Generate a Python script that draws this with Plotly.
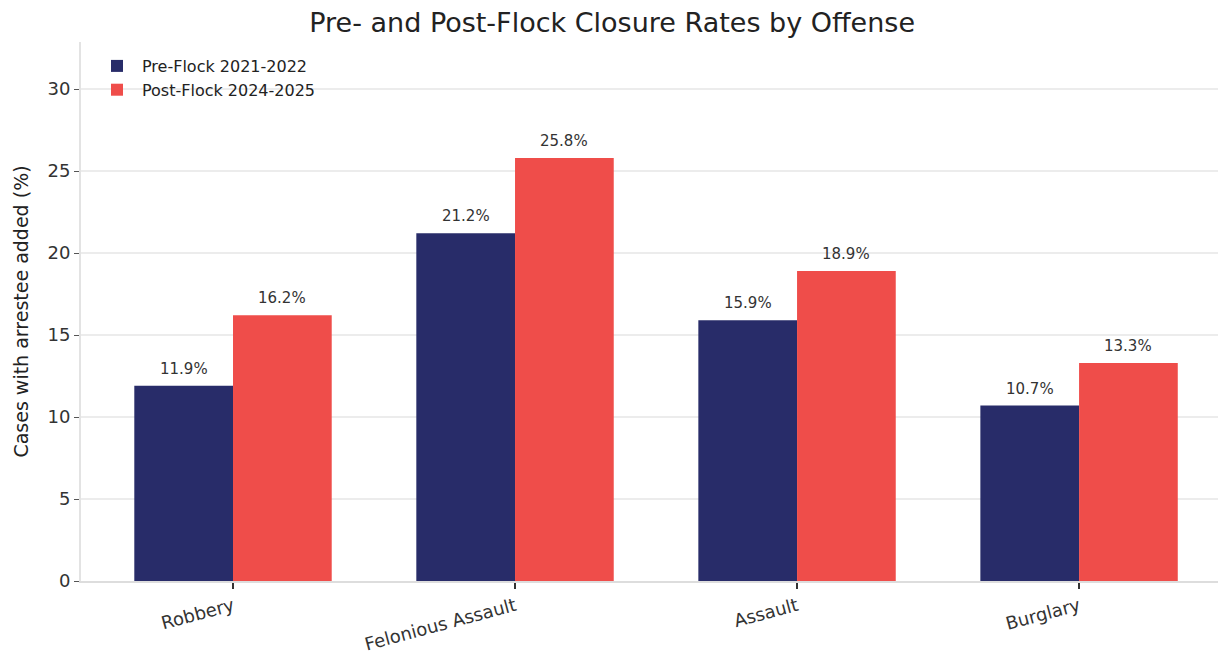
import plotly.graph_objects as go

categories = ["Robbery", "Felonious Assault", "Assault", "Burglary"]
pre_flock = [11.9, 21.2, 15.9, 10.7]
post_flock = [16.2, 25.8, 18.9, 13.3]
series_names = ["Pre-Flock 2021-2022", "Post-Flock 2024-2025"]
y_ticks = [0, 5, 10, 15, 20, 25, 30]

FONT = "DejaVu Sans"
idx = list(range(len(categories)))
BAR_W = 0.35

fig = go.Figure()
for k, (name, vals, color) in enumerate([(series_names[0], pre_flock, "#282c69"),
                                          (series_names[1], post_flock, "#ef4d4a")]):
    off = (k - 0.5) * BAR_W
    fig.add_trace(go.Bar(
        x=idx, y=vals, name=name, marker=dict(color=color, line=dict(width=0)),
    ))
    for i, v in zip(idx, vals):
        fig.add_annotation(x=i + off, y=v, xref="x", yref="y", text=f"{v:.1f}%",
                           showarrow=False, yanchor="bottom", yshift=6,
                           font=dict(family=FONT, size=15, color="#333333"))

fig.update_layout(
    width=1218, height=648,
    margin=dict(l=73, r=0, t=34, b=75),
    paper_bgcolor="white", plot_bgcolor="white",
    barmode="group", bargap=0.3, bargroupgap=0,
    title=dict(text="Pre- and Post-Flock Closure Rates by Offense", x=0.496, xref="container",
               xanchor="center", y=0.978, yanchor="middle",
               font=dict(family=FONT, size=27, color="#222222")),
    font=dict(family=FONT, color="#333333"),
    legend=dict(x=0.0096, y=0.987, xanchor="left", yanchor="top", bgcolor="rgba(255,255,255,0)",
                font=dict(family=FONT, size=16, color="#222222"), tracegroupgap=4,
                itemwidth=40),
    showlegend=True,
)
fig.update_xaxes(
    tickmode="array", tickvals=idx, ticktext=categories, range=[-0.539, 3.521],
    tickangle=-15, tickfont=dict(family=FONT, size=18, color="#333333"),
    ticks="outside", ticklen=6, tickwidth=1.5, tickcolor="#333333",
    showgrid=False, showline=True, linecolor="#dddddd", linewidth=2, zeroline=False,
    automargin=False,
)
fig.update_yaxes(
    range=[0, 32.87], tickvals=y_ticks, tickfont=dict(family=FONT, size=18, color="#333333"),
    ticks="outside", ticklen=5, tickcolor="#555555",
    showgrid=True, gridcolor="#ececec", gridwidth=1.5,
    showline=True, linecolor="#e3e3e3", linewidth=2, zeroline=False,
    title=dict(text="Cases with arrestee added (%)", font=dict(family=FONT, size=19, color="#222222"), standoff=14),
    automargin=False,
)

fig.write_html("out.html")
